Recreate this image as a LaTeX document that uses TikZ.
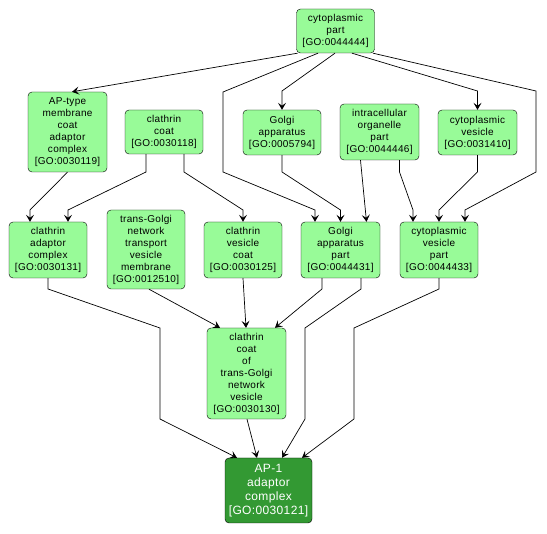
\documentclass[tikz,border=0pt]{standalone}
\usepackage{fontspec}
\setmainfont[LetterSpace=3]{Liberation Sans}
\usetikzlibrary{arrows.meta}
\definecolor{termgreen}{RGB}{152,251,152}
\definecolor{rootgreen}{RGB}{51,153,51}

\begin{document}
\begin{tikzpicture}
      [x=1pt,y=-1pt,
       term/.style={draw=black,fill=termgreen,rounded corners=4pt,minimum width=78pt,
         inner sep=0pt,align=center,font=\fontsize{10}{12}\selectfont},
       rootterm/.style={term,fill=rootgreen,text=white,minimum width=87pt,
         font=\fontsize{12}{14}\selectfont},
       edge/.style={draw=black,line width=0.7pt,-{Stealth[length=7pt,width=8pt,inset=3pt]}}]
      \useasboundingbox (0,0) rectangle (547,534);

      \node[term,minimum height=44pt] (cp) at (335.5,31) {cytoplasmic\\part\\{[GO:0044444]}};
      \node[term,minimum height=80pt,minimum width=79pt] (apt) at (67.5,132) {AP-type\\membrane\\coat\\adaptor\\complex\\{[GO:0030119]}};
      \node[term,minimum height=44pt] (cc) at (164,132) {clathrin\\coat\\{[GO:0030118]}};
      \node[term,minimum height=45pt] (ga) at (282,132.5) {Golgi\\apparatus\\{[GO:0005794]}};
      \node[term,minimum height=56pt,minimum width=79pt] (iop) at (379.5,132) {intracellular\\organelle\\part\\{[GO:0044446]}};
      \node[term,minimum height=45pt,minimum width=79pt] (cv) at (477.5,132.5) {cytoplasmic\\vesicle\\{[GO:0031410]}};
      \node[term,minimum height=56pt] (cac) at (48,250) {clathrin\\adaptor\\complex\\{[GO:0030131]}};
      \node[term,minimum height=79pt] (tgn) at (146,249.5) {trans-Golgi\\network\\transport\\vesicle\\membrane\\{[GO:0012510]}};
      \node[term,minimum height=56pt] (cvc) at (243,250) {clathrin\\vesicle\\coat\\{[GO:0030125]}};
      \node[term,minimum height=56pt,minimum width=79pt] (gap) at (340.5,250) {Golgi\\apparatus\\part\\{[GO:0044431]}};
      \node[term,minimum height=56pt] (cvp) at (439,250) {cytoplasmic\\vesicle\\part\\{[GO:0044433]}};
      \node[term,minimum height=91pt,minimum width=79pt] (cct) at (246.5,373.5) {clathrin\\coat\\of\\trans-Golgi\\network\\vesicle\\{[GO:0030130]}};
      \node[rootterm,minimum height=65pt] (ap1) at (268.5,490.5) {AP-1\\adaptor\\complex\\{[GO:0030121]}};

      \foreach \from/\fx/\to/\tx in {cp/-38/apt/4.5, iop/-19/gap/26, tgn/3/cct/-26.5,
                                     cvc/0/cct/-0.5, cct/0.5/ap1/-11.5}
      \draw[edge] ([xshift=\fx pt]\from.south) -- ([xshift=\tx pt]\to.north);

      \draw[edge] ([xshift=-17.5pt]cp.south) -- (223,92) -- (223,172) -- (315,210) -- ([xshift=-25.5pt]gap.north);
      \draw[edge] ([xshift=-0.5pt]cp.south) -- (282,91) -- (ga.north);
      \draw[edge] ([xshift=16.5pt]cp.south) -- (477.5,91) -- (cv.north);
      \draw[edge] ([xshift=37.5pt]cp.south) -- (536,91) -- (536,172) -- (465,210) -- ([xshift=26pt]cvp.north);
      \draw[edge] (apt.south) -- (30,210) -- ([xshift=-18pt]cac.north);
      \draw[edge] ([xshift=-18pt]cc.south) -- (146,172) -- (68,210) -- ([xshift=20pt]cac.north);
      \draw[edge] ([xshift=20pt]cc.south) -- (184,172) -- (243,210) -- (cvc.north);
      \draw[edge] (ga.south) -- (282,172) -- (340.5,210) -- (gap.north);
      \draw[edge] ([xshift=20pt]iop.south) -- (399.5,172) -- (413,210) -- ([xshift=-26pt]cvp.north);
      \draw[edge] (cv.south) -- (477.5,172) -- (439,210) -- (cvp.north);
      \draw[edge] (cac.south) -- (48,289) -- (160,328) -- (160,419) -- ([xshift=-31.5pt]ap1.north);
      \draw[edge] ([xshift=-18.5pt]gap.south) -- (322,289) -- ([xshift=28.5pt]cct.north);
      \draw[edge] ([xshift=20.5pt]gap.south) -- (361,289) -- (305,328) -- (305,419) -- ([xshift=13.5pt]ap1.north);
      \draw[edge] (cvp.south) -- (439,289) -- (354,328) -- (354,419) -- ([xshift=33.5pt]ap1.north);
    \end{tikzpicture}
\end{document}
